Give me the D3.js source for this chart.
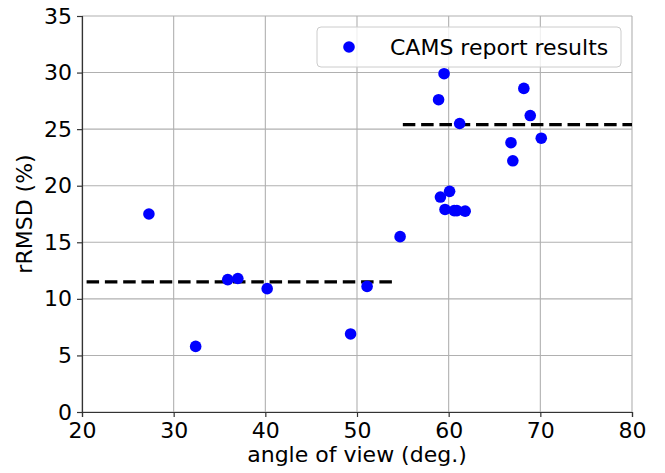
<!DOCTYPE html>
<meta charset="utf-8">
<script src="https://d3js.org/d3.v7.min.js"></script>
<style>
  body { margin: 0; background: #fff; }
  text { font-family: "DejaVu Sans", sans-serif; }
</style>
<div id="my_dataviz"></div>
<script>

// data
var angle = [27.3, 32.4, 35.9, 37.0, 40.2, 49.3, 51.1, 54.7,
             59.5, 58.9, 61.2, 68.2, 68.9, 70.1, 66.8, 67.0,
             60.1, 59.1, 59.6, 60.6, 60.9, 61.8];
var rmsd  = [17.5, 5.8, 11.7, 11.8, 10.9, 6.9, 11.1, 15.5,
             29.9, 27.6, 25.5, 28.6, 26.2, 24.2, 23.8, 22.2,
             19.5, 19.0, 17.9, 17.8, 17.8, 17.75];
// mean levels (dashed lines)
var meanX = [[20.5, 54.3], [55, 80]];
var meanY = [11.5, 25.4];
var xTicks = [20, 30, 40, 50, 60, 70, 80];
var yTicks = [0, 5, 10, 15, 20, 25, 30, 35];

var margin = {top: 16, right: 33, bottom: 61, left: 82},
    width = 665 - margin.left - margin.right,
    height = 473 - margin.top - margin.bottom;

var svg = d3.select("#my_dataviz")
  .append("svg")
    .attr("width", 665)
    .attr("height", 473)
  .append("g")
    .attr("transform", "translate(" + margin.left + "," + margin.top + ")");

var x = d3.scaleLinear().domain([20, 80]).range([0, width]);
var y = d3.scaleLinear().domain([0, 35]).range([height, 0]);

// grid
svg.append("g").selectAll("line").data(xTicks).enter().append("line")
  .attr("x1", function(d) { return x(d); }).attr("x2", function(d) { return x(d); })
  .attr("y1", 0).attr("y2", height)
  .attr("stroke", "#b0b0b0").attr("stroke-width", 1.1);
svg.append("g").selectAll("line").data(yTicks).enter().append("line")
  .attr("y1", function(d) { return y(d); }).attr("y2", function(d) { return y(d); })
  .attr("x1", 0).attr("x2", width)
  .attr("stroke", "#b0b0b0").attr("stroke-width", 1.1);

// axes
var xAxis = svg.append("g")
  .attr("transform", "translate(0," + height + ")")
  .call(d3.axisBottom(x).tickValues(xTicks).tickSize(5).tickPadding(5));
var yAxis = svg.append("g")
  .call(d3.axisLeft(y).tickValues(yTicks).tickSize(5).tickPadding(5));
[xAxis, yAxis].forEach(function(a) {
  a.selectAll("text").style("font-size", "22px").attr("fill", "#000");
  a.select(".domain").attr("stroke", "#333").attr("stroke-width", 1.2);
  a.selectAll(".tick line").attr("stroke", "#333").attr("stroke-width", 1.2);
});

// dashed mean lines
svg.append("g").selectAll("line").data(meanY).enter().append("line")
  .attr("x1", function(d, i) { return x(meanX[i][0]); })
  .attr("x2", function(d, i) { return x(meanX[i][1]); })
  .attr("y1", function(d) { return y(d); })
  .attr("y2", function(d) { return y(d); })
  .attr("stroke", "#000").attr("stroke-width", 3.3)
  .attr("stroke-dasharray", "12.5,5.8");

// points
svg.append("g").selectAll("circle").data(angle).enter().append("circle")
  .attr("cx", function(d) { return x(d); })
  .attr("cy", function(d, i) { return y(rmsd[i]); })
  .attr("r", 5.8)
  .style("fill", "#0000ff");

// legend
var lg = svg.append("g").attr("transform", "translate(" + (317 - margin.left) + "," + (27 - margin.top) + ")");
lg.append("rect")
  .attr("width", 304).attr("height", 40).attr("rx", 4)
  .attr("fill", "#fff").attr("fill-opacity", 0.8)
  .attr("stroke", "#cccccc").attr("stroke-width", 1);
lg.append("circle").attr("cx", 32).attr("cy", 20).attr("r", 5.8).style("fill", "#0000ff");
lg.append("text").attr("x", 73).attr("y", 20).attr("dy", "0.36em")
  .style("font-size", "22px").text("CAMS report results");

// axis labels
svg.append("text")
  .attr("x", width / 2).attr("y", height + 50)
  .style("text-anchor", "middle").style("font-size", "22px")
  .text("angle of view (deg.)");
svg.append("text")
  .attr("transform", "rotate(-90)")
  .attr("x", -height / 2).attr("y", -50)
  .style("text-anchor", "middle").style("font-size", "22px")
  .text("rRMSD (%)");

</script>
